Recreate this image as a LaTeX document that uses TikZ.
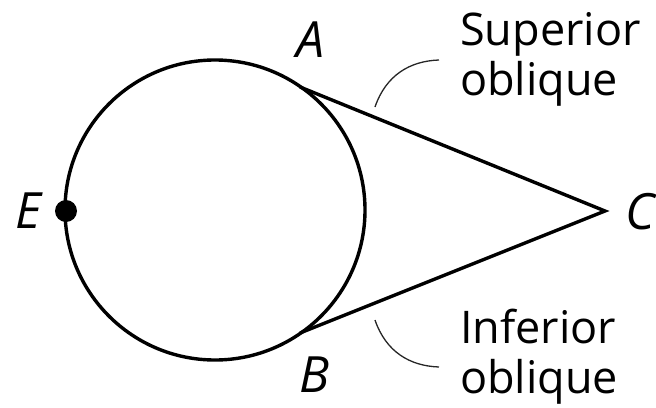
\documentclass[tikz,border=0pt]{standalone}
\usepackage{fontspec}
\setmainfont{Open Sans}
\usetikzlibrary{positioning}

\begin{document}
\begin{tikzpicture}[
    x=1pt, y=-1pt,
    outline/.style={line width=3.4pt},
    leader/.style={line width=1.3pt, draw=black!85},
    ptlabel/.style={font=\fontsize{50}{50}\selectfont\itshape, inner sep=0pt},
    muscle/.style={font=\fontsize{45}{50}\selectfont, align=left, inner sep=0pt, anchor=north west}
]
\useasboundingbox (0,0) rectangle (656,407);

% Eyeball and the two muscle lines
\coordinate (eye) at (215,210);
\coordinate (a) at (300,87);
\coordinate (b) at (300,333);
\coordinate (c) at (605,211);
\coordinate (e) at (66,211);
\draw[outline] (eye) circle[radius=150];
\draw[outline] (a) -- (c) -- (b);
\fill (e) circle[radius=11];

% Point labels
\node[ptlabel] (lblA) at (311,40) {A};
\node[ptlabel] (lblB) at (314,375) {B};
\node[ptlabel] (lblC) at (640,212) {C};
\node[ptlabel] (lblE) at (28,211) {E};

% Muscle names
\node[muscle] (sup) at (460,12) {Superior\\oblique};
\node[muscle] (inf) at (460,309) {Inferior\\oblique};

% Leader curves
\coordinate (s1) at (375,107);
\coordinate (s2) at (439,60);
\coordinate (i1) at (375,320);
\coordinate (i2) at (439,367);
\draw[leader] (s1) .. controls (386,75) and (410,61) .. (s2);
\draw[leader] (i1) .. controls (386,352) and (410,366) .. (i2);

\end{tikzpicture}
\end{document}
